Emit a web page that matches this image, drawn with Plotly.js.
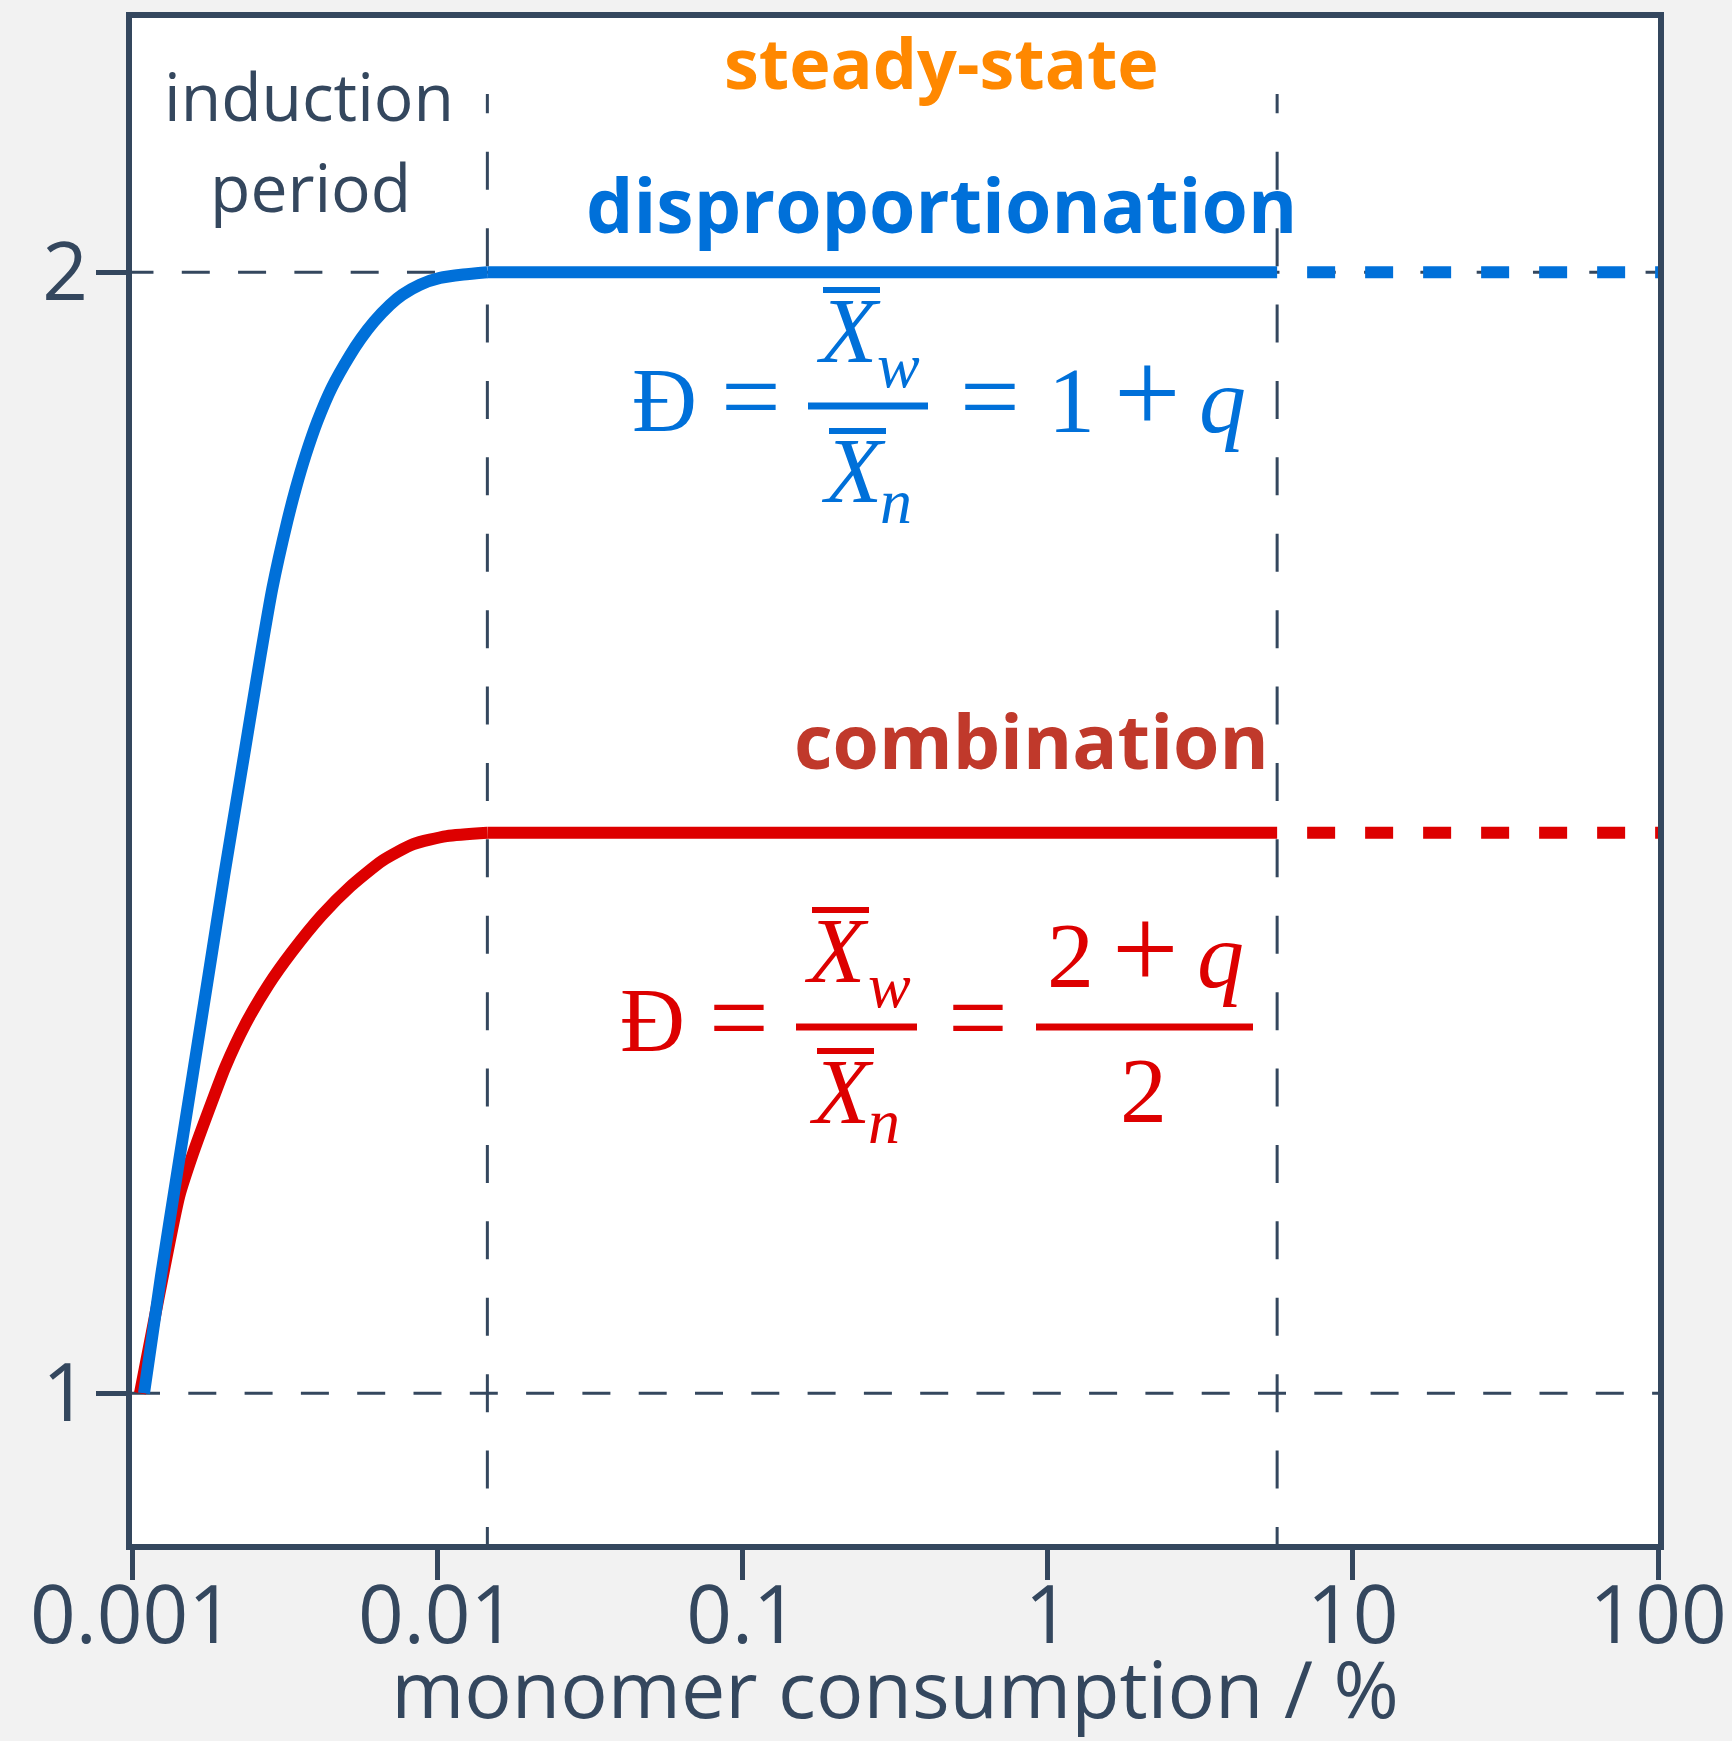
<!DOCTYPE html>
<html>
<head>
<meta charset="utf-8">
<script src="https://cdn.plot.ly/plotly-3.0.1.min.js"></script>
<style>html,body{margin:0;padding:0;background:#f2f2f2;}</style>
</head>
<body>
<div id="chart" style="width:1732px;height:1741px;"></div>
<script>
// ---- data ----
const xTickVals = [0.001, 0.01, 0.1, 1, 10, 100];
const xTickText = ['0.001', '0.01', '0.1', '1', '10', '100'];
const yTickVals = [1, 2];
const yTickText = ['1', '2'];

// phase boundaries (monomer consumption, %)
const steadyStart = 0.0146;
const steadyEnd = 5.65;
const xMax = 100;
const xRefStart = 0.001;
const xRefStart2 = 0.000952;

// induction period, disproportionation (Đ -> 2)
const dispX = [0.001095, 0.001245, 0.001403, 0.001581, 0.001781, 0.002005, 0.002271, 0.002435,
               0.002641, 0.002883, 0.003228, 0.003439, 0.003707, 0.004048, 0.004511, 0.005178,
               0.005627, 0.006209, 0.007004, 0.007685, 0.008784, 0.010214, 0.012178, 0.0146];
const dispY = [1.000, 1.105, 1.195, 1.284, 1.373, 1.462, 1.551, 1.601,
               1.659, 1.718, 1.778, 1.807, 1.837, 1.867, 1.897, 1.926,
               1.941, 1.956, 1.971, 1.980, 1.989, 1.995, 1.998, 2.000];
// induction period, combination (Đ -> 1.5)
const combX = [0.001062, 0.001236, 0.001429, 0.001585, 0.001788, 0.002021, 0.002350, 0.002796,
               0.003337, 0.004173, 0.005190, 0.006627, 0.008352, 0.010742, 0.0146];
const combY = [1.000, 1.092, 1.176, 1.214, 1.253, 1.291, 1.329, 1.364,
               1.3935, 1.426, 1.452, 1.4753, 1.4899, 1.4970, 1.500];
// steady state (solid) and continuation (dashed)
const steadyX = [0.0146, 5.65];
const extX = [5.65, 100];
const dispSteadyY = [2, 2];
const combSteadyY = [1.5, 1.5];

const yRange = [0.8655, 2.2269];
const vLineTop = 2.159;
const vLineBottom = 0.8468;

// ---- styles ----
const DARK = '#34475e';
const BLUE = '#0070d9';
const RED = '#dd0000';
const BROWN = '#c0392b';
const ORANGE = '#ff8800';

const L = 132, R = 1658, T = 18, B = 1544;
const P = xf => (xf - L) / (R - L);
const Q = yf => (B - yf) / (B - T);

const ref = (x, y, dash) => ({x: x, y: y, mode: 'lines', line: {color: DARK, width: 3, dash: dash}, hoverinfo: 'skip'});
const traces = [
  ref([xRefStart2, xMax], [2, 2], '28px,28.3px'),
  ref([xRefStart, xMax], [1, 1], '28px,28.3px'),
  ref([steadyStart, steadyStart], [vLineBottom, vLineTop], '38px,38.4px'),
  ref([steadyEnd, steadyEnd], [vLineBottom, vLineTop], '38px,38.4px'),
  {x: combX, y: combY, mode: 'lines', line: {color: RED, width: 12, shape: 'spline', smoothing: 0.6}, name: 'combination'},
  {x: steadyX, y: combSteadyY, mode: 'lines', line: {color: RED, width: 12}, hoverinfo: 'skip'},
  {x: extX, y: combSteadyY, mode: 'lines', line: {color: RED, width: 12, dash: '0px,30px,28px,0px'}, hoverinfo: 'skip'},
  {x: dispX, y: dispY, mode: 'lines', line: {color: BLUE, width: 12, shape: 'spline', smoothing: 0.6}, name: 'disproportionation'},
  {x: steadyX, y: dispSteadyY, mode: 'lines', line: {color: BLUE, width: 12}, hoverinfo: 'skip'},
  {x: extX, y: dispSteadyY, mode: 'lines', line: {color: BLUE, width: 12, dash: '0px,30px,28px,0px'}, hoverinfo: 'skip'}
];

const annotations = [];
function txt(text, xf, yf, size, color, family) {
  annotations.push({
    text: text, x: P(xf), y: Q(yf), xref: 'paper', yref: 'paper',
    xanchor: 'center', yanchor: 'middle', showarrow: false,
    font: {size: size, color: color, family: family}
  });
}
const SANS = 'Open Sans, Noto Sans, sans-serif';
const SERIF = 'Liberation Serif, DejaVu Serif, serif';

txt('induction', 309, 95, 66, DARK, SANS);
txt('period', 310, 186, 66, DARK, SANS);
txt('<b>steady-state</b>', 941, 62, 70, ORANGE, SANS);
txt('<b>disproportionation</b>', 941, 204, 75, BLUE, SANS);
txt('<b>combination</b>', 1031, 740, 75, BROWN, SANS);

const FS = 94, FSS = 64, FSO = 106, FSP = 118;
// blue formula:  Đ = Xw / Xn = 1 + q
txt('Đ', 664, 400, 90, BLUE, SERIF);
txt('=', 751, 397, FSO, BLUE, SERIF);
txt('<i>X</i>', 848, 330, FS, BLUE, SERIF);
txt('<i>w</i>', 898, 365, FSS, BLUE, SERIF);
txt('<i>X</i>', 853, 470, FS, BLUE, SERIF);
txt('<i>n</i>', 896, 501, FSS, BLUE, SERIF);
txt('=', 990, 397, FSO, BLUE, SERIF);
txt('1', 1071, 400, FS, BLUE, SERIF);
txt('+', 1147, 393, FSP, BLUE, SERIF);
txt('<i>q</i>', 1222, 400, FS, BLUE, SERIF);
// red formula:  Đ = Xw / Xn = (2 + q) / 2
txt('Đ', 652, 1020, 90, RED, SERIF);
txt('=', 739, 1018, FSO, RED, SERIF);
txt('<i>X</i>', 836, 950, FS, RED, SERIF);
txt('<i>w</i>', 889, 985, FSS, RED, SERIF);
txt('<i>X</i>', 841, 1091, FS, RED, SERIF);
txt('<i>n</i>', 884, 1121, FSS, RED, SERIF);
txt('=', 978, 1018, FSO, RED, SERIF);
txt('2', 1070, 955, FS, RED, SERIF);
txt('+', 1145, 949, FSP, RED, SERIF);
txt('<i>q</i>', 1220, 955, FS, RED, SERIF);
txt('2', 1143, 1090, FS, RED, SERIF);

const shapes = [];
function bar(x0, x1, yf, w, color) {
  shapes.push({type: 'line', xref: 'paper', yref: 'paper', x0: P(x0), x1: P(x1), y0: Q(yf), y1: Q(yf),
               line: {color: color, width: w}});
}
bar(808, 928, 406, 7, BLUE);
bar(823, 880, 290, 6, BLUE);
bar(829, 886, 431, 6, BLUE);
bar(796, 917, 1027, 7, RED);
bar(812, 869, 910, 6, RED);
bar(817, 874, 1051, 6, RED);
bar(1036, 1253, 1027, 7, RED);

const axisCommon = {
  showline: true, linecolor: DARK, linewidth: 6, mirror: true,
  ticks: 'outside', ticklen: 30, tickwidth: 5, tickcolor: DARK,
  showgrid: false, zeroline: false,
  tickfont: {family: SANS, size: 80, color: DARK}
};

const layout = {
  width: 1732, height: 1741,
  margin: {l: L, r: 1732 - R, t: T, b: 1741 - B, pad: 0},
  paper_bgcolor: '#f2f2f2', plot_bgcolor: '#ffffff',
  showlegend: false,
  xaxis: Object.assign({}, axisCommon, {
    type: 'log', range: [-3, 2], tickmode: 'array', tickvals: xTickVals, ticktext: xTickText,
    ticklabelstandoff: -33,
    title: {text: 'monomer consumption / %', font: {family: SANS, size: 79, color: DARK}, standoff: 37},
    automargin: false
  }),
  yaxis: Object.assign({}, axisCommon, {
    range: yRange, tickmode: 'array', tickvals: yTickVals, ticktext: yTickText,
    ticklabelstandoff: -8, automargin: false
  }),
  annotations: annotations,
  shapes: shapes
};

Plotly.newPlot('chart', traces, layout, {staticPlot: true, displayModeBar: false});
</script>
</body>
</html>
